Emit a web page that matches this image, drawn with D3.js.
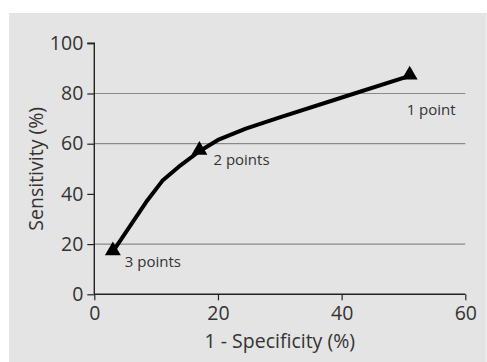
<!DOCTYPE html>
<html><head><meta charset="utf-8">
<script src="https://cdn.jsdelivr.net/npm/d3@7"></script>
<style>
html,body{margin:0;padding:0;background:#fff;}
svg{display:block;}
text{font-family:"Open Sans",sans-serif;fill:#333;}
</style></head>
<body>
<script>
const curveX = [3, 8.6, 11, 14, 17, 20, 24.5, 30, 40.8, 51];
const curveY = [17, 37.5, 45.2, 51.5, 57, 61.5, 66, 70.5, 79, 87];
const markerX = [51, 17, 3];
const markerY = [87, 57, 17];
const markerLabels = ["1 point", "2 points", "3 points"];
const xTicks = [0, 20, 40, 60];
const yTicks = [0, 20, 40, 60, 80, 100];
const gridValues = [20, 60, 80];

const W = 487, H = 362;
const svg = d3.select("body").append("svg").attr("width", W).attr("height", H);
svg.append("rect").attr("x", 9).attr("y", 13).attr("width", W - 9 - 0.5).attr("height", H - 13).attr("fill", "#e4e4e4");

const x = d3.scaleLinear().domain([0, 60]).range([94.3, 465.3]);
const y = d3.scaleLinear().domain([0, 100]).range([294.3, 43.3]);

svg.append("g").selectAll("line").data(gridValues).join("line")
  .attr("x1", x(0)).attr("x2", x(60)).attr("y1", d => y(d)).attr("y2", d => y(d))
  .attr("stroke", "#8a8a8a").attr("stroke-width", 1.2);

const xAxis = svg.append("g").attr("transform", `translate(0,${y(0)})`)
  .call(d3.axisBottom(x).tickValues(xTicks).tickSize(6).tickPadding(5.5).tickFormat(d3.format("d")));
const yAxis = svg.append("g").attr("transform", `translate(${x(0)},0)`)
  .call(d3.axisLeft(y).tickValues(yTicks).tickSize(7).tickPadding(4).tickFormat(d3.format("d")));
[xAxis, yAxis].forEach(g => {
  g.select(".domain").attr("stroke", "#222").attr("stroke-width", 1.4);
  g.selectAll(".tick line").attr("stroke", "#222").attr("stroke-width", 1.2);
  g.selectAll(".tick text").attr("fill", "#333").style("font-size", "19.5px").style("font-family", '"Open Sans",sans-serif');
});
yAxis.select(".domain").attr("d", `M-7,${y(100)}H0V${y(0)}`);
xAxis.select(".domain").attr("d", `M${x(0)},0H${x(60)}`);

const pts = curveX.map((d, i) => [d, curveY[i]]);
svg.append("path").datum(pts)
  .attr("d", d3.line().x(d => x(d[0])).y(d => y(d[1])))
  .attr("fill", "none").attr("stroke", "#000").attr("stroke-width", 4).attr("stroke-linejoin", "round");

const mk = markerX.map((d, i) => ({x: d, y: markerY[i], label: markerLabels[i]}));
svg.append("g").selectAll("path").data(mk).join("path")
  .attr("transform", d => `translate(${x(d.x)},${y(d.y) - 1})`)
  .attr("d", d3.symbol().type(d3.symbolTriangle).size(110))
  .attr("fill", "#000");

const labelOffsets = [[-3, 39], [14, 14], [12, 15]];
svg.append("g").selectAll("text").data(mk).join("text")
  .attr("x", (d, i) => x(d.x) + labelOffsets[i][0])
  .attr("y", (d, i) => y(d.y) + labelOffsets[i][1])
  .style("font-size", "15px")
  .text(d => d.label);

svg.append("text").attr("x", x(30)).attr("y", 348).attr("text-anchor", "middle")
  .style("font-size", "19.5px").text("1 - Specificity (%)");
svg.append("text").attr("transform", `translate(43,${y(50)}) rotate(-90)`).attr("text-anchor", "middle")
  .style("font-size", "19.5px").text("Sensitivity (%)");
</script>
</body></html>
